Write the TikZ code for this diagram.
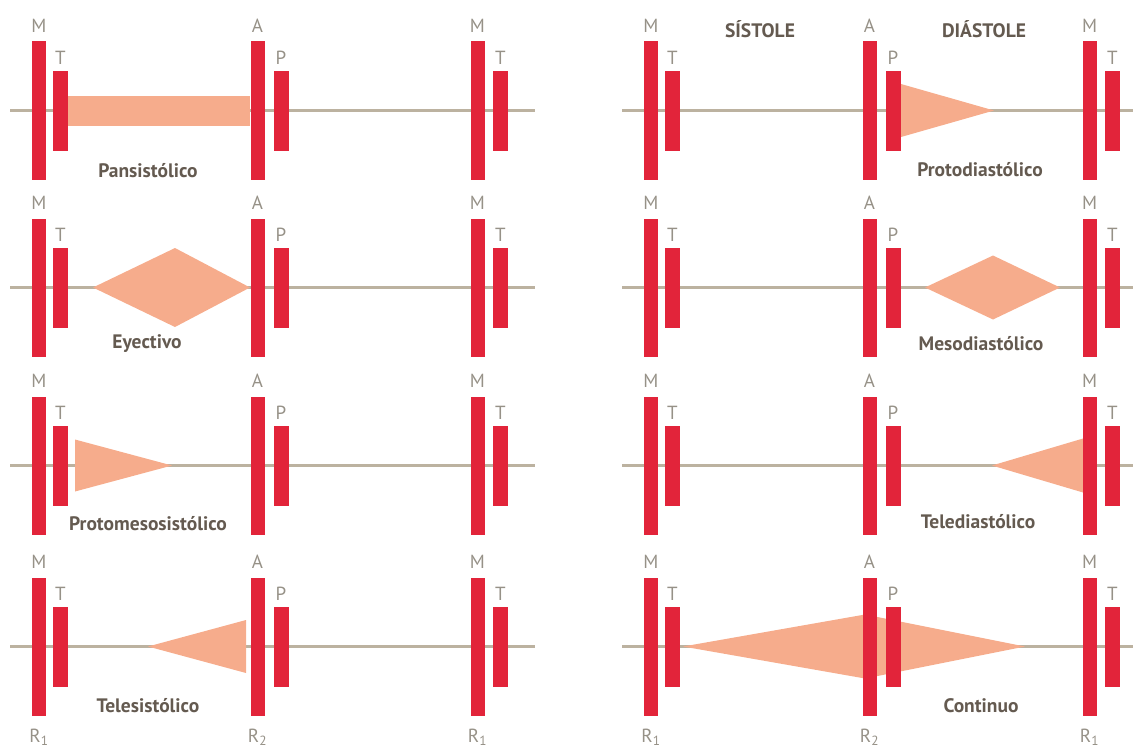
\documentclass[tikz,border=0pt]{standalone}
\usepackage{fontspec}
\setmainfont{PT Sans}
\usetikzlibrary{positioning}
\definecolor{valve}{RGB}{226,36,58}
\definecolor{murmur}{RGB}{246,172,140}
\definecolor{baseline}{RGB}{188,178,160}
\definecolor{lbl}{RGB}{150,145,135}
\definecolor{titlecol}{RGB}{100,90,80}

\begin{document}
\begin{tikzpicture}[x=1pt,y=-1pt,
  longbar/.style={fill=valve, draw=none, minimum width=14pt, minimum height=138pt, inner sep=0pt},
  shortbar/.style={fill=valve, draw=none, minimum width=15pt, minimum height=80pt, inner sep=0pt},
  valvelbl/.style={text=lbl, font=\fontsize{19}{19}\selectfont, inner sep=0pt},
  murmurname/.style={text=titlecol, font=\bfseries\fontsize{19.5}{19.5}\selectfont, inner sep=0pt},
  phasename/.style={text=titlecol, font=\bfseries\fontsize{19.5}{19.5}\selectfont, inner sep=0pt},
  trace/.style={draw=baseline, line width=2.5pt},
  sound/.style={fill=murmur, draw=none},
]
\useasboundingbox (0,0) rectangle (1137,752);

% phase headings
\node[phasename] (sis) at (760,29) {SÍSTOLE};
\node[phasename] (dia) at (984,29) {DIÁSTOLE};

% baselines of the eight phonocardiograms
\foreach \r/\y in {1/110.5,2/287.5,3/465.5,4/646.5}{
  \coordinate (l\r a) at (10,\y);  \coordinate (l\r b) at (535,\y);
  \coordinate (r\r a) at (622,\y); \coordinate (r\r b) at (1133,\y);
  \draw[trace] (l\r a) -- (l\r b);
  \draw[trace] (r\r a) -- (r\r b);
}

% murmur shapes, left column (systolic)
\fill[sound] (68,95.5) rectangle (250,125.5);
\fill[sound] (93,287.5) -- (175,248) -- (250,287.5) -- (175,327) -- cycle;
\fill[sound] (75,439.5) -- (172,465.5) -- (75,491.5) -- cycle;
\fill[sound] (148,646.5) -- (246,620) -- (246,673) -- cycle;

% murmur shapes, right column (diastolic and continuous)
\fill[sound] (901,84) -- (994,110.5) -- (901,137) -- cycle;
\fill[sound] (925,287.5) -- (993,255.5) -- (1060,287.5) -- (993,319.5) -- cycle;
\fill[sound] (992,465.5) -- (1083,438.5) -- (1083,492.5) -- cycle;
\fill[sound] (683,646.5) -- (865,614.5) -- (1025,646.5) -- (865,678.5) -- cycle;

% valve closure bars and their letters
\foreach \r/\y in {1/110.5,2/287.5,3/465.5,4/646.5}{
  \foreach \s/\dx in {l/0,r/612}{
    \node[longbar]  (\s\r m)  at (39+\dx,\y) {};
    \node[shortbar] (\s\r t)  at (60.5+\dx,\y) {};
    \node[longbar]  (\s\r aa) at (257.5+\dx,\y) {};
    \node[shortbar] (\s\r p)  at (281+\dx,\y) {};
    \node[longbar]  (\s\r mm) at (477.5+\dx,\y) {};
    \node[shortbar] (\s\r tt) at (500.5+\dx,\y) {};
    \node[valvelbl, above=9pt of \s\r m]  (\s\r lm)  {M};
    \node[valvelbl, above=6pt of \s\r t]  (\s\r lt)  {T};
    \node[valvelbl, above=9pt of \s\r aa] (\s\r la)  {A};
    \node[valvelbl, above=6pt of \s\r p]  (\s\r lp)  {P};
    \node[valvelbl, above=9pt of \s\r mm] (\s\r lmm) {M};
    \node[valvelbl, above=6pt of \s\r tt] (\s\r ltt) {T};
  }
}

% heart sounds under the last row
\foreach \s in {l,r}{
  \node[valvelbl, below=13pt of \s4m]  (\s rone)  {R\textsubscript{1}};
  \node[valvelbl, below=13pt of \s4aa] (\s rtwo)  {R\textsubscript{2}};
  \node[valvelbl, below=13pt of \s4mm] (\s rthree){R\textsubscript{1}};
}

% murmur names
\node[murmurname] (n1) at (148,171) {Pansistólico};
\node[murmurname] (n2) at (147,344) {Eyectivo};
\node[murmurname] (n3) at (148,524) {Protomesosistólico};
\node[murmurname] (n4) at (148,706) {Telesistólico};
\node[murmurname] (n5) at (980,170) {Protodiastólico};
\node[murmurname] (n6) at (981,344) {Mesodiastólico};
\node[murmurname] (n7) at (978,522) {Telediastólico};
\node[murmurname] (n8) at (981,706) {Continuo};
\end{tikzpicture}
\end{document}
